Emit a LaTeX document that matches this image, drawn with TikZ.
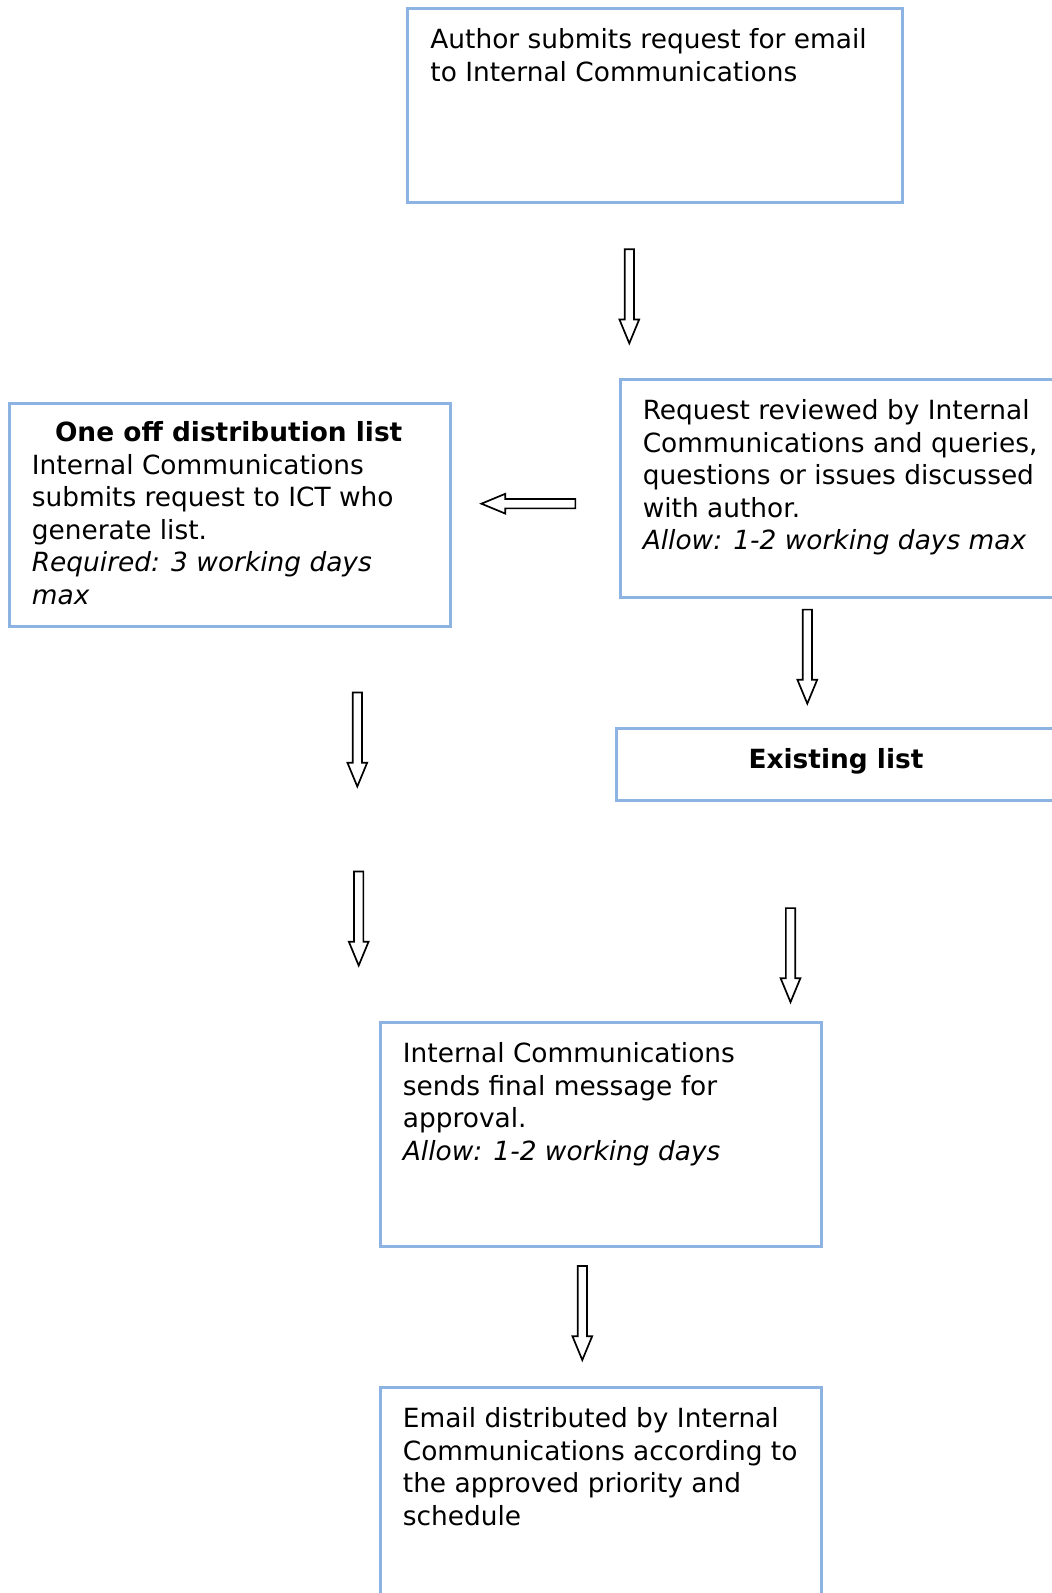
\documentclass[tikz,border=0pt]{standalone}
\usepackage{fontspec}
\setmainfont{DejaVu Sans}
\usetikzlibrary{shapes.arrows}
\definecolor{boxblue}{RGB}{141,179,226}

\begin{document}
\begin{tikzpicture}[x=0.5pt, y=-0.5pt,
    box/.style={draw=boxblue, line width=1.5pt, rectangle, inner sep=0pt},
    txt/.style={anchor=north west, align=left, inner sep=0pt, font=\fontsize{13.2pt}{16.25pt}\selectfont},
    blockarrow/.style={single arrow, draw, fill=white, line width=0.85pt, inner sep=1.9pt, minimum height=47pt, single arrow head extend=2.6pt, single arrow tip angle=45}]
    \useasboundingbox (0,0) rectangle (1052,1593);

    \node[box, minimum width=247.5pt, minimum height=97.1pt] (author) at (655.1,105.2) {};
    \node[box, minimum width=221pt, minimum height=109.3pt] (review) at (841,488.4) {};
    \node[box, minimum width=220.6pt, minimum height=111.3pt] (oneoff) at (229.7,514.8) {};
    \node[box, minimum width=220pt, minimum height=35.6pt] (existing) at (836,764.4) {};
    \node[box, minimum width=220.6pt, minimum height=112pt] (approval) at (600.7,1134) {};
    \node[box, minimum width=220.6pt, minimum height=116.3pt] (distribute) at (600.7,1503.7) {};

    \node[txt] (authortxt) at (430,28.2) {Author submits request for email\\to Internal Communications};
    \node[txt] (reviewtxt) at (642.4,399.3) {Request reviewed by Internal\\Communications and queries,\\questions or issues discussed\\with author.\\\textit{Allow: 1-2 working days max}};
    \node[txt, anchor=north, font=\fontsize{13.2pt}{16.25pt}\selectfont\bfseries] (oneofftitle) at (228.7,421.2) {One off distribution list};
    \node[txt] (oneofftxt) at (31.5,453.9) {Internal Communications\\submits request to ICT who\\generate list.\\\textit{Required: 3 working days}\\\textit{max}};
    \node[txt, anchor=center, font=\fontsize{13.2pt}{16.25pt}\selectfont\bfseries] (existingtxt) at (836,761.5) {Existing list};
    \node[txt] (approvaltxt) at (402.5,1042.2) {Internal Communications\\sends final message for\\approval.\\\textit{Allow: 1-2 working days}};
    \node[txt] (distributetxt) at (402.5,1407.2) {Email distributed by Internal\\Communications according to\\the approved priority and\\schedule};

    \node[blockarrow, rotate=-90] (arr1) at (629.3,290.7) {};
    \node[blockarrow, rotate=180] (arr2) at (534,503.7) {};
    \node[blockarrow, rotate=-90] (arr3) at (807.3,651) {};
    \node[blockarrow, rotate=-90] (arr4) at (357.3,733.9) {};
    \node[blockarrow, rotate=-90] (arr5) at (358.7,912.9) {};
    \node[blockarrow, rotate=-90] (arr6) at (790.5,949.5) {};
    \node[blockarrow, rotate=-90] (arr7) at (582.3,1307.4) {};
\end{tikzpicture}
\end{document}
